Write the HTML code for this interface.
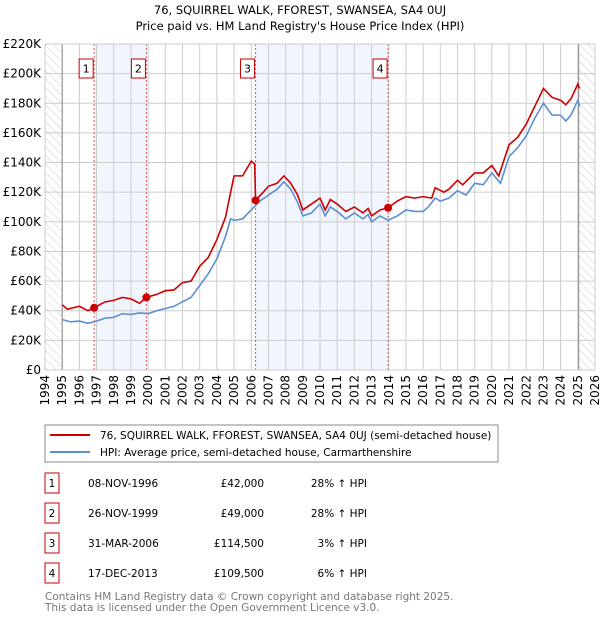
<!DOCTYPE html>
<html><head><meta charset="utf-8"><style>
body{margin:0;background:#fff;font-family:"DejaVu Sans","Liberation Sans",sans-serif;}
svg text{font-family:"DejaVu Sans","Liberation Sans",sans-serif;}
</style></head><body>
<svg id="c" width="600" height="620" xmlns="http://www.w3.org/2000/svg">
<defs><pattern id="hatch" width="6" height="6" patternUnits="userSpaceOnUse" patternTransform="rotate(-45)"><line x1="0" y1="0" x2="0" y2="6" stroke="#ccc" stroke-width="1"/></pattern></defs>
<text x="300" y="14" text-anchor="middle" font-size="11.5">76, SQUIRREL WALK, FFOREST, SWANSEA, SA4 0UJ</text>
<text x="300" y="30" text-anchor="middle" font-size="11.5">Price paid vs. HM Land Registry's House Price Index (HPI)</text>
<g id="plot"></g>
<rect x="45" y="425" width="453" height="37" fill="none" stroke="#888"/>
<line x1="50" y1="435" x2="90" y2="435" stroke="#cc0000" stroke-width="2"/>
<text x="100" y="439" font-size="10.5">76, SQUIRREL WALK, FFOREST, SWANSEA, SA4 0UJ (semi-detached house)</text>
<line x1="50" y1="452" x2="90" y2="452" stroke="#5b8fd0" stroke-width="2"/>
<text x="100" y="456" font-size="10.5">HPI: Average price, semi-detached house, Carmarthenshire</text>
<g id="table" font-size="10.5"></g>
<text x="45" y="600" font-size="10.5" fill="#777">Contains HM Land Registry data © Crown copyright and database right 2025.</text>
<text x="45" y="611" font-size="10.5" fill="#777">This data is licensed under the Open Government Licence v3.0.</text>
</svg>
<script>
const hpiYears=[1995,1995.5,1996,1996.5,1997,1997.5,1998,1998.5,1999,1999.5,2000,2000.5,2001,2001.5,2002,2002.5,2003,2003.5,2004,2004.5,2004.8,2005,2005.5,2006,2006.5,2007,2007.5,2007.9,2008.3,2008.7,2009,2009.5,2010,2010.3,2010.6,2011,2011.5,2012,2012.5,2012.8,2013,2013.5,2013.96,2014.5,2015,2015.5,2016,2016.3,2016.7,2017,2017.5,2018,2018.5,2019,2019.5,2020,2020.5,2021,2021.5,2022,2022.5,2023,2023.5,2024,2024.3,2024.6,2025,2025.1];
const hpiValues=[34,32.5,33,31.5,33,35,35.5,38,37.5,38.5,38,40,41.5,43,46,49,57,65,75,90,102,101,102,108,114,118,122,127,122,113,104,106,112,104,110,107,102,106,102,105,100,104,101,104,108,107,107,110,116,114,116,121,118,126,125,133,126,144,150,158,170,180,172,172,168,172,182,178];
const priceYears=[1995,1995.3,1996,1996.5,1996.85,1997.5,1998,1998.5,1999,1999.5,1999.9,2000.5,2001,2001.5,2002,2002.5,2003,2003.5,2004,2004.5,2004.8,2005,2005.5,2006,2006.2,2006.25,2006.7,2007,2007.5,2007.9,2008.3,2008.7,2009,2009.5,2010,2010.3,2010.6,2011,2011.5,2012,2012.5,2012.8,2013,2013.5,2013.96,2014.5,2015,2015.5,2016,2016.5,2016.7,2017.2,2017.5,2018,2018.3,2019,2019.5,2020,2020.4,2021,2021.5,2022,2022.5,2023,2023.5,2024,2024.3,2024.6,2025,2025.1];
const priceValues=[44,41,43,40,42,46,47,49,48,45,49,51,53.5,54,59,60,70,76,88,103,120,131,131,141,139,114.5,120,124,126,131,126,118,108,112,116,108,115,112,107,110,106,109,104,108,109.5,114,117,116,117,116,123,120,122,128,125,133,133,138,131,152,157,166,178,190,184,182,179,183,193,190];
const saleLabels=["1","2","3","4"];
const saleYears=[1996.86,1999.9,2006.25,2013.96];
const saleValues=[42,49,114.5,109.5];
const saleDates=["08-NOV-1996","26-NOV-1999","31-MAR-2006","17-DEC-2013"];
const salePrices=["£42,000","£49,000","£114,500","£109,500"];
const saleDiffs=["28% ↑ HPI","28% ↑ HPI","3% ↑ HPI","6% ↑ HPI"];
const yTicks=[0,20,40,60,80,100,120,140,160,180,200,220];
const xTicks=[];for(let y=1994;y<=2026;y++)xTicks.push(y);

const NS="http://www.w3.org/2000/svg";
const L=45,R=595,T=44,B=370,X0=1994,X1=2026,YMAX=220;
const xs=v=>L+(v-X0)/(X1-X0)*(R-L);
const ys=v=>B-v/YMAX*(B-T);
const g=document.getElementById('plot');
function mk(tag,attrs,parent){const e=document.createElementNS(NS,tag);for(const k in attrs)e.setAttribute(k,attrs[k]);(parent||g).appendChild(e);return e;}
let e;
e=mk('rect',{x:L,y:T,width:R-L,height:B-T,fill:'#fff'});


for(let i=0;i<saleYears.length-1;i+=2){
 e=mk('rect',{x:xs(saleYears[i]),y:T,width:xs(saleYears[i+1])-xs(saleYears[i]),height:B-T,fill:'#eef3fc',opacity:0.8});
 
 
}
e=mk('rect',{x:L,y:T,width:xs(1995)-L,height:B-T,fill:'url(#hatch)'});


e=mk('rect',{x:xs(2025.05),y:T,width:R-xs(2025.05),height:B-T,fill:'url(#hatch)'});


yTicks.forEach(v=>{
 e=mk('line',{x1:L,x2:R,y1:ys(v),y2:ys(v),stroke:'#ccc'});
 
 
 e=mk('text',{x:L-4,y:ys(v)+4,'text-anchor':'end','font-size':12});
 e.textContent=v===0?'£0':'£'+v+'K';
 
 
});
xTicks.forEach(v=>{
 e=mk('line',{x1:xs(v),x2:xs(v),y1:T,y2:B,stroke:'#ccc'});
 
 
 e=mk('text',{x:0,y:0,'text-anchor':'end','font-size':12,transform:`translate(${xs(v)+4},${B+5}) rotate(-90)`});
 e.textContent=v;
 
 
});
e=mk('line',{x1:xs(1995),x2:xs(1995),y1:T,y2:B,stroke:'#888'});


e=mk('line',{x1:xs(2025.05),x2:xs(2025.05),y1:T,y2:B,stroke:'#888'});


saleYears.forEach((v,i)=>{
 e=mk('line',{x1:xs(v),x2:xs(v),y1:T,y2:B,stroke:'#e06060','stroke-dasharray':'2,2'});
 
 
});
e=mk('polyline',{points:hpiYears.map((y,i)=>xs(y)+','+ys(hpiValues[i])).join(' '),fill:'none',stroke:'#5b8fd0','stroke-width':1.6});


e=mk('polyline',{points:priceYears.map((y,i)=>xs(y)+','+ys(priceValues[i])).join(' '),fill:'none',stroke:'#cc0000','stroke-width':1.6});


saleYears.forEach((v,i)=>{
 e=mk('circle',{cx:xs(v),cy:ys(saleValues[i]),r:4,fill:'#cc0000'});
 
 
 const bx=xs(v)-7;
 e=mk('rect',{x:bx-8,y:59,width:14,height:19,fill:'#fff',stroke:'#cc0000'});
 
 
 e=mk('text',{x:bx-1,y:72.5,'text-anchor':'middle','font-size':11});
 e.textContent=saleLabels[i];
 
 
});
e=mk('rect',{x:L,y:T,width:R-L,height:B-T,fill:'none',stroke:'#ccc'});


const tb=document.getElementById('table');
saleLabels.forEach((s,i)=>{
 const cy=483+i*30;
 e=mk('rect',{x:45,y:cy-10,width:14,height:20,fill:'#fff',stroke:'#cc0000'},tb);
 
 
 e=mk('text',{x:52,y:cy+4,'text-anchor':'middle'},tb);e.textContent=s;
 
 
 e=mk('text',{x:88,y:cy+4},tb);e.textContent=saleDates[i];
 
 
 e=mk('text',{x:264,y:cy+4,'text-anchor':'end'},tb);e.textContent=salePrices[i];
 
 
 e=mk('text',{x:367,y:cy+4,'text-anchor':'end'},tb);e.textContent=saleDiffs[i];
 
 
});
</script>
</body></html>
